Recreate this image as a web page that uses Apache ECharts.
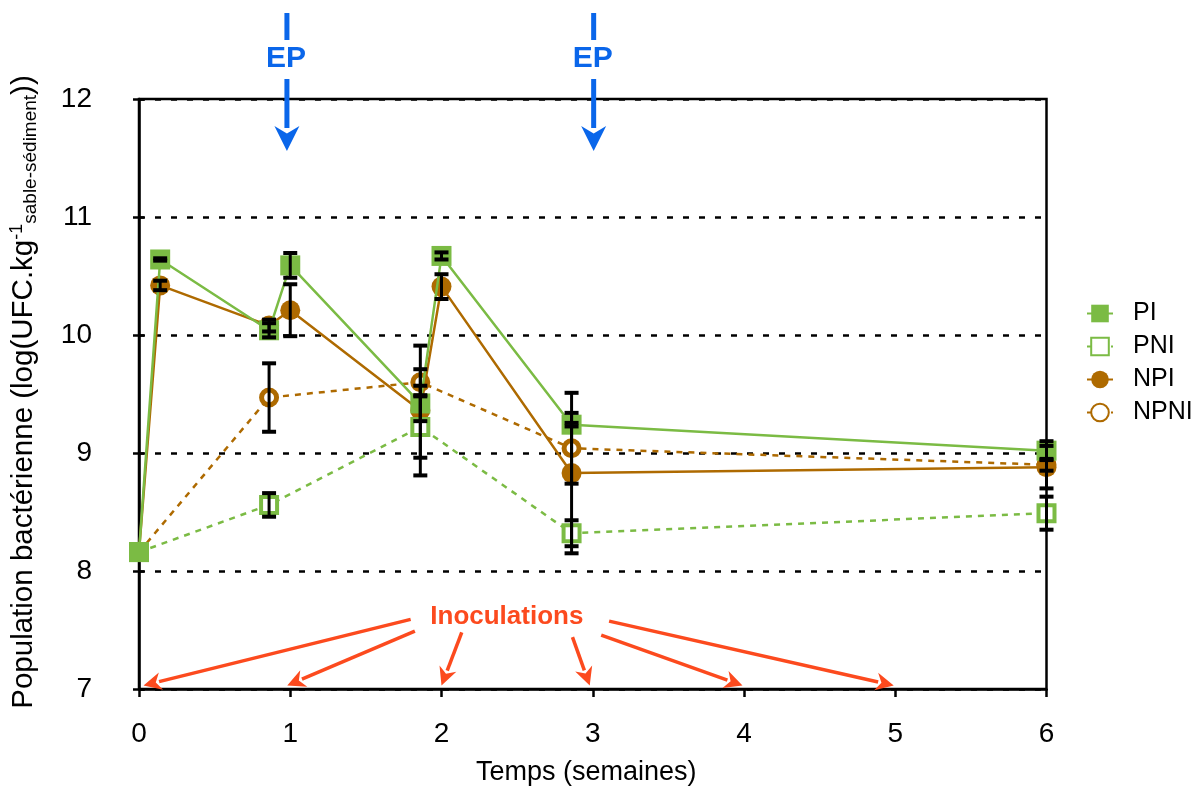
<!DOCTYPE html>
<html><head><meta charset="utf-8">
<script src="https://cdn.jsdelivr.net/npm/echarts@6/dist/echarts.min.js"></script>
<style>html,body{margin:0;padding:0;background:#fff}#c{width:1194px;height:791px}</style>
</head><body><div id="c"></div>
<script>
// ---- data ----
const weeksP   = [0, 0.14, 0.86, 1.0, 1.86, 2.0, 2.86, 6];   // PI / NPI sampling times
const weeksN   = [0, 0.86, 1.86, 2.86, 6];                    // PNI / NPNI sampling times
const PI       = [8.16, 10.64, 10.04, 10.59, 9.42, 10.67, 9.24, 9.02];
const PIerr    = [0, 0.01, 0.06, 0.105, 0.15, 0.03, 0.015, 0.08];
const NPI      = [8.16, 10.42, 10.08, 10.21, 9.36, 10.41, 8.83, 8.88];
const NPIerr   = [0, 0.04, 0.05, 0.22, 0.55, 0.105, 0.68, 0.18];
const PNI      = [8.16, 8.56, 9.22, 8.32, 8.49];
const PNIerr   = [0, 0.10, 0.26, 0.11, 0.14];
const NPNI     = [8.16, 9.47, 9.60, 9.04, 8.90];
const NPNIerr  = [0, 0.29, 0.11, 0.30, 0.05];
const seriesNames = ['PI', 'PNI', 'NPI', 'NPNI'];
const xTicks = [0, 1, 2, 3, 4, 5, 6];
const yTicks = [7, 8, 9, 10, 11, 12];
const epWeeks = [0.978, 3.006];                             // "EP" events
const inocTargets = [0.03, 0.98, 2.0, 2.98, 3.99, 4.99];    // inoculation arrows point here (weeks)
const inocStarts = [[1.796, 7.59], [1.824, 7.49], [2.134, 7.48], [2.866, 7.44], [3.056, 7.456], [3.108, 7.575]];
const inocLabelPos = [2.432, 7.61];

// ---- styles ----
const GREEN = '#7bbb44', BROWN = '#ae6a00', ORANGE = '#fc4a1e', BLUE = '#0a66ea';
const FONT = '"Liberation Sans", Arial, Helvetica, sans-serif';

const pairs = (xs, ys) => xs.map((x, i) => [x, ys[i]]);
const errData = [];
[[weeksP, PI, PIerr], [weeksP, NPI, NPIerr], [weeksN, PNI, PNIerr], [weeksN, NPNI, NPNIerr]].forEach(([xs, ys, es]) => {
  xs.forEach((x, i) => { if (es[i] > 0) errData.push([x, ys[i] - es[i], ys[i] + es[i]]); });
});

function renderErr(params, api) {
  const x = api.value(0), lo = api.value(1), hi = api.value(2);
  const t = api.coord([x, hi]), b = api.coord([x, lo]);
  const hw = 7;
  return { type: 'group', children: [
    { type: 'line', shape: { x1: t[0], y1: t[1], x2: b[0], y2: b[1] }, style: { stroke: '#000', lineWidth: 3 } },
    { type: 'line', shape: { x1: t[0] - hw, y1: t[1], x2: t[0] + hw, y2: t[1] }, style: { stroke: '#000', lineWidth: 4 } },
    { type: 'line', shape: { x1: b[0] - hw, y1: b[1], x2: b[0] + hw, y2: b[1] }, style: { stroke: '#000', lineWidth: 4 } }
  ]};
}

const yBase = {
  type: 'value', min: yTicks[0], max: yTicks[yTicks.length - 1], interval: 1, position: 'left'
};

const chart = echarts.init(document.getElementById('c'), null, { renderer: 'canvas' });
const option = {
  animation: false,
  backgroundColor: '#fff',
  grid: { left: 136.5, right: 147.5, top: 99, bottom: 101, show: true, borderColor: '#000', borderWidth: 2.5, containLabel: false },
  legend: {
    data: seriesNames, orient: 'vertical', left: 1081, top: 296,
    itemWidth: 26, itemHeight: 22, itemGap: 8,
    textStyle: { fontSize: 25, color: '#000', fontFamily: FONT, padding: [0, 0, 0, 15] }
  },
  xAxis: {
    type: 'value', min: xTicks[0], max: xTicks[xTicks.length - 1], interval: 1,
    axisLine: { onZero: false, lineStyle: { color: '#000', width: 2.5 } },
    axisTick: { length: 8, lineStyle: { color: '#000', width: 2.5 } },
    axisLabel: { fontSize: 28, color: '#000', fontFamily: FONT, margin: 31 },
    splitLine: { show: false },
    name: 'Temps (semaines)', nameLocation: 'middle', nameGap: 70,
    nameTextStyle: { fontSize: 27, color: '#000', fontFamily: FONT, padding: [0, 13, 0, 0] }
  },
  yAxis: [
    Object.assign({}, yBase, {
      axisLine: { onZero: false, lineStyle: { color: '#000', width: 2.5 } },
      axisTick: { length: 6, lineStyle: { color: '#000', width: 2.5 } },
      axisLabel: { fontSize: 28, color: '#000', fontFamily: FONT, margin: 47 },
      splitLine: { show: true, lineStyle: { color: '#000', width: 2.5, type: [6, 10] } },
      name: 'Population bactérienne (log(UFC.kg{sup|-1}{sub|sable-sédiment}))',
      nameLocation: 'middle', nameGap: 99, nameRotate: 90,
      nameTextStyle: {
        fontSize: 29.5, color: '#000', fontFamily: FONT, padding: [0, 0, 0, 4],
        rich: {
          sup: { fontSize: 18, fontFamily: FONT, color: '#000', verticalAlign: 'top', padding: [0, 0, 13, 0] },
          sub: { fontSize: 19, fontFamily: FONT, color: '#000', verticalAlign: 'bottom', padding: [13, 0, 0, 0] }
        }
      }
    }),
    Object.assign({}, yBase, {
      axisLine: { show: false },
      axisTick: { inside: true, length: 5, lineStyle: { color: '#000', width: 2.5 } },
      axisLabel: { show: false },
      splitLine: { show: false }
    })
  ],
  series: [
    { name: 'NPNI', type: 'line', z: 2, data: pairs(weeksN, NPNI), symbol: 'circle', symbolSize: 15, showAllSymbol: true,
      itemStyle: { color: '#fff', borderColor: BROWN, borderWidth: 5 },
      lineStyle: { color: BROWN, width: 2.5, type: [6, 6] } },
    { name: 'NPI', type: 'line', z: 3, data: pairs(weeksP, NPI), symbol: 'circle', symbolSize: 20, showAllSymbol: true,
      itemStyle: { color: BROWN }, lineStyle: { color: BROWN, width: 2.5 } },
    { name: 'PNI', type: 'line', z: 4, data: pairs(weeksN, PNI), symbol: 'rect', symbolSize: 16, showAllSymbol: true,
      itemStyle: { color: '#fff', borderColor: GREEN, borderWidth: 4 },
      lineStyle: { color: GREEN, width: 2.5, type: [6, 6] } },
    { name: 'PI', type: 'line', z: 5, data: pairs(weeksP, PI), symbol: 'rect', symbolSize: 20, showAllSymbol: true,
      itemStyle: { color: GREEN }, lineStyle: { color: GREEN, width: 2.5 } },
    { name: 'err', type: 'custom', z: 10, data: errData, renderItem: renderErr, encode: { x: 0, y: [1, 2] }, silent: true }
  ]
};
chart.setOption(option);

// ---- annotations (EP arrows and inoculation arrows) ----
function arrow(p0, p1, color, lw, headLen, headHalf) {
  const dx = p1[0] - p0[0], dy = p1[1] - p0[1];
  const L = Math.hypot(dx, dy), ux = dx / L, uy = dy / L;
  const bx = p1[0] - ux * headLen, by = p1[1] - uy * headLen;
  return [
    { type: 'line', shape: { x1: p0[0], y1: p0[1], x2: bx + ux * 2, y2: by + uy * 2 }, style: { stroke: color, lineWidth: lw } },
    { type: 'polygon', shape: { points: [[p1[0], p1[1]], [bx - uy * headHalf, by + ux * headHalf], [bx + ux * headLen * 0.3, by + uy * headLen * 0.3], [bx + uy * headHalf, by - ux * headHalf]] }, style: { fill: color } }
  ];
}
const els = [];
const topY = chart.convertToPixel({ gridIndex: 0 }, [0, yTicks[yTicks.length - 1]])[1];
epWeeks.forEach(w => {
  const x = chart.convertToPixel({ gridIndex: 0 }, [w, 12])[0];
  els.push({ type: 'line', shape: { x1: x, y1: topY - 86, x2: x, y2: topY - 59 }, style: { stroke: BLUE, lineWidth: 5 } });
  els.push({ type: 'text', x: x - 1, y: topY - 40, style: { text: 'EP', fill: BLUE, font: 'bold 30px "Liberation Sans", Arial, sans-serif', align: 'center', verticalAlign: 'middle' } });
  arrow([x, topY - 20], [x, topY + 52], BLUE, 5, 25, 12.5).forEach(e => els.push(e));
});
inocTargets.forEach((w, i) => {
  const p1 = chart.convertToPixel({ gridIndex: 0 }, [w, 7.03]);
  const p0 = chart.convertToPixel({ gridIndex: 0 }, inocStarts[i]);
  arrow(p0, p1, ORANGE, 3.5, 18, 9).forEach(e => els.push(e));
});
const lp = chart.convertToPixel({ gridIndex: 0 }, inocLabelPos);
els.push({ type: 'text', x: lp[0], y: lp[1], style: { text: 'Inoculations', fill: ORANGE, font: 'bold 26px "Liberation Sans", Arial, sans-serif', align: 'center', verticalAlign: 'middle' } });
chart.setOption({ graphic: { elements: els.map(e => Object.assign({ z: 50 }, e)) } });
</script>
</body></html>
